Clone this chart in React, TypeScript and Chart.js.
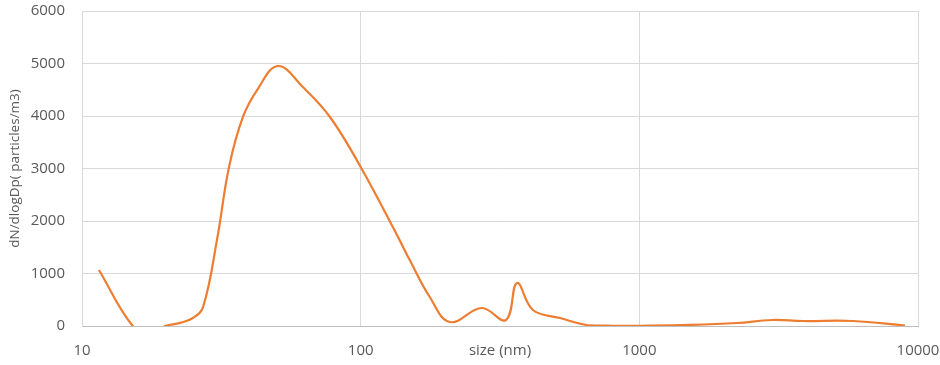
import React, { useEffect, useRef } from "react";
import { Chart, registerables } from "chart.js";

Chart.register(...registerables);

const sizesNm = [11.5, 15.2, 17.4, 19.9, 22.5, 25.0, 27.2, 30.5, 33.7, 37.8, 42.5, 50.5, 62, 77.6, 100, 135, 150, 177, 209, 272, 332, 364, 415, 519, 649, 800, 1000, 1520, 2240, 2990, 3860, 5850, 8980];
const dNdlogDp = [1067, 0, -130, 0, 60, 152, 362, 1638, 3029, 3981, 4495, 4952, 4552, 3981, 3029, 1733, 1257, 552, 76, 343, 114, 819, 305, 152, 19, 5, 5, 20, 57, 114, 95, 95, 10];
const xTickValues = [10, 100, 1000, 10000];
const xTitle = "size (nm)";
const yTitle = "dN/dlogDp( particles/m3)";

const FONT = "'Open Sans', sans-serif";
const TEXT = "#595959";

export default function App() {
  const ref = useRef<HTMLCanvasElement | null>(null);
  useEffect(() => {
    document.body.style.margin = "0";
    const ctx = ref.current!;
    const titlePlugin = {
      id: "xTitleInline",
      afterDraw(chart: any) {
        const c = chart.ctx;
        const area = chart.chartArea;
        c.save();
        c.font = `15px ${FONT}`;
        c.fillStyle = TEXT;
        c.textAlign = "center";
        c.textBaseline = "middle";
        c.fillText(xTitle, (area.left + area.right) / 2, 351);
        c.restore();
      },
    };
    const chart = new Chart(ctx, {
      type: "line",
      data: {
        datasets: [
          {
            data: sizesNm.map((x, i) => ({ x, y: dNdlogDp[i] })),
            borderColor: "#ED7D31",
            borderWidth: 2.2,
            pointRadius: 0,
            tension: 0.4,
            fill: false,
          },
        ],
      },
      options: {
        animation: false,
        responsive: true,
        maintainAspectRatio: false,
        layout: { padding: { top: 11, right: 22, left: 0, bottom: 0 } },
        plugins: { legend: { display: false }, tooltip: { enabled: false } },
        scales: {
          x: {
            type: "logarithmic",
            min: 10,
            max: 10000,
            afterBuildTicks: (axis: any) => {
              axis.ticks = xTickValues.map((v) => ({ value: v }));
            },
            afterFit: (scale: any) => {
              scale.height = 39;
              scale.paddingRight = 0;
              scale.paddingLeft = 0;
            },
            ticks: {
              callback: (v: any) => String(v),
              color: TEXT,
              font: { family: FONT, size: 15 },
              padding: 16,
              maxRotation: 0,
              autoSkip: false,
            },
            grid: { color: "#d9d9d9", drawTicks: false },
            border: { color: "#bfbfbf" },
          },
          y: {
            min: 0,
            max: 6000,
            afterFit: (scale: any) => {
              scale.width = 82;
              scale.paddingTop = 0;
              scale.paddingBottom = 0;
            },
            ticks: {
              stepSize: 1000,
              callback: (v: any) => String(v),
              color: TEXT,
              font: { family: FONT, size: 15 },
              padding: 17,
            },
            grid: { color: "#d9d9d9", drawTicks: false },
            border: { color: "#d9d9d9" },
            title: {
              display: true,
              text: yTitle,
              color: TEXT,
              font: { family: FONT, size: 13.5 },
              padding: { top: 7, bottom: 0 },
            },
          },
        },
      },
      plugins: [titlePlugin],
    } as any);
    return () => chart.destroy();
  }, []);
  return (
    <div style={{ width: 940, height: 365, position: "relative" }}>
      <canvas ref={ref} />
    </div>
  );
}
